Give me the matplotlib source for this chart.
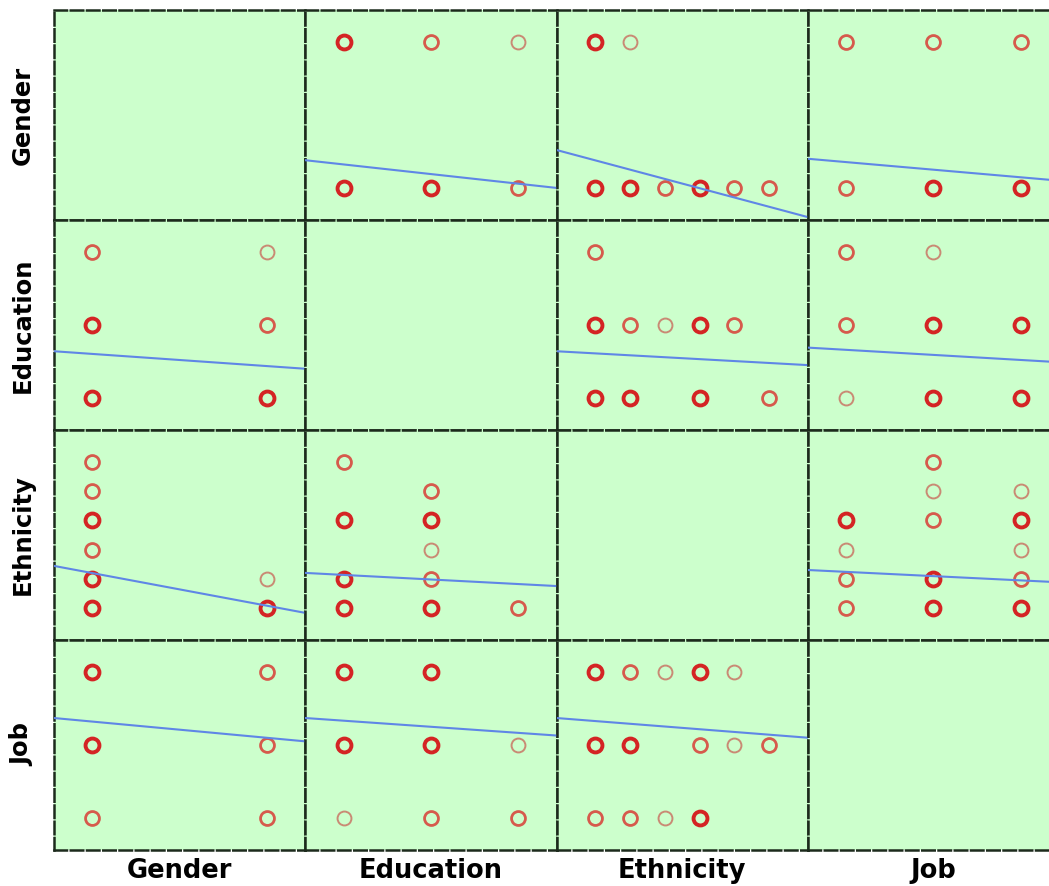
import matplotlib
matplotlib.use('Agg')
import matplotlib.pyplot as plt
import numpy as np

plt.rcParams['font.family'] = ['DejaVu Sans']

names = ['Gender', 'Education', 'Ethnicity', 'Job']
n_levels = [2, 3, 6, 3]

# how strong each circle looks (0 = no point), rows = y level, cols = x level
gender_education = [[3, 3, 2],
                    [3, 2, 1]]
gender_ethnicity = [[3, 3, 2, 3, 2, 2],
                    [3, 1, 0, 0, 0, 0]]
gender_job = [[2, 3, 3],
              [2, 2, 2]]
education_ethnicity = [[3, 3, 0, 3, 0, 2],
                       [3, 2, 1, 3, 2, 0],
                       [2, 0, 0, 0, 0, 0]]
education_job = [[1, 3, 3],
                 [2, 3, 3],
                 [2, 1, 0]]
ethnicity_job = [[2, 3, 3],
                 [2, 3, 2],
                 [1, 0, 1],
                 [3, 2, 3],
                 [0, 1, 1],
                 [0, 2, 0]]

pairs = {
    (0, 1): gender_education,
    (0, 2): gender_ethnicity,
    (0, 3): gender_job,
    (1, 2): education_ethnicity,
    (1, 3): education_job,
    (2, 3): ethnicity_job,
}

# fitted line: y value at left and right edge of each panel
line_left = [[None, 1.19, 1.26, 1.20],
             [1.64, None, 1.64, 1.69],
             [2.44, 2.20, None, 2.30],
             [2.37, 2.37, 2.37, None]]
line_right = [[None, 1.00, 0.80, 1.05],
              [1.40, None, 1.45, 1.49],
              [0.83, 1.75, None, 1.88],
              [2.05, 2.13, 2.10, None]]

w_color = {1: '#c98a74', 2: '#d65a4c', 3: '#d42424'}
w_lw = {1: 1.4, 2: 2.0, 3: 2.8}


def lims(k):
    pad = 0.22 * (k - 1)
    return 1 - pad, k + pad


fig = plt.figure(figsize=(10.49, 8.86), dpi=100)
gs = fig.add_gridspec(4, 4, left=54/1049, right=1059/1049, top=1-10/886,
                      bottom=1-850/886, wspace=0, hspace=0)

for r in range(4):
    for c in range(4):
        ax = fig.add_subplot(gs[r, c])
        ax.set_facecolor('#ccffcc')
        x0, x1 = lims(n_levels[c])
        y0, y1 = lims(n_levels[r])
        ax.set_xlim(x0, x1)
        ax.set_ylim(y0, y1)
        ax.set_xticks([])
        ax.set_yticks([])
        for sp in ax.spines.values():
            sp.set_linestyle((0, (5, 1.5)))
            sp.set_linewidth(1.8)
            sp.set_color('#1c2a1c')
        if r != c:
            if (r, c) in pairs:
                tab = np.array(pairs[(r, c)])
            else:
                tab = np.array(pairs[(c, r)]).T
            for yi in range(tab.shape[0]):
                for xi in range(tab.shape[1]):
                    w = tab[yi, xi]
                    if w:
                        ax.plot(xi + 1, yi + 1, 'o', ms=10, mfc='none',
                                mec=w_color[w], mew=w_lw[w], zorder=3)
            ax.plot([x0, x1], [line_left[r][c], line_right[r][c]],
                    color='#5f86e6', lw=1.5, zorder=4)
        if c == 0:
            ax.set_ylabel(names[r], fontsize=17.5, fontweight='bold', labelpad=14)
        if r == 3:
            ax.set_xlabel(names[c], fontsize=18.5, fontweight='bold', labelpad=6)

fig.savefig('out.png', dpi=100, facecolor='white')
